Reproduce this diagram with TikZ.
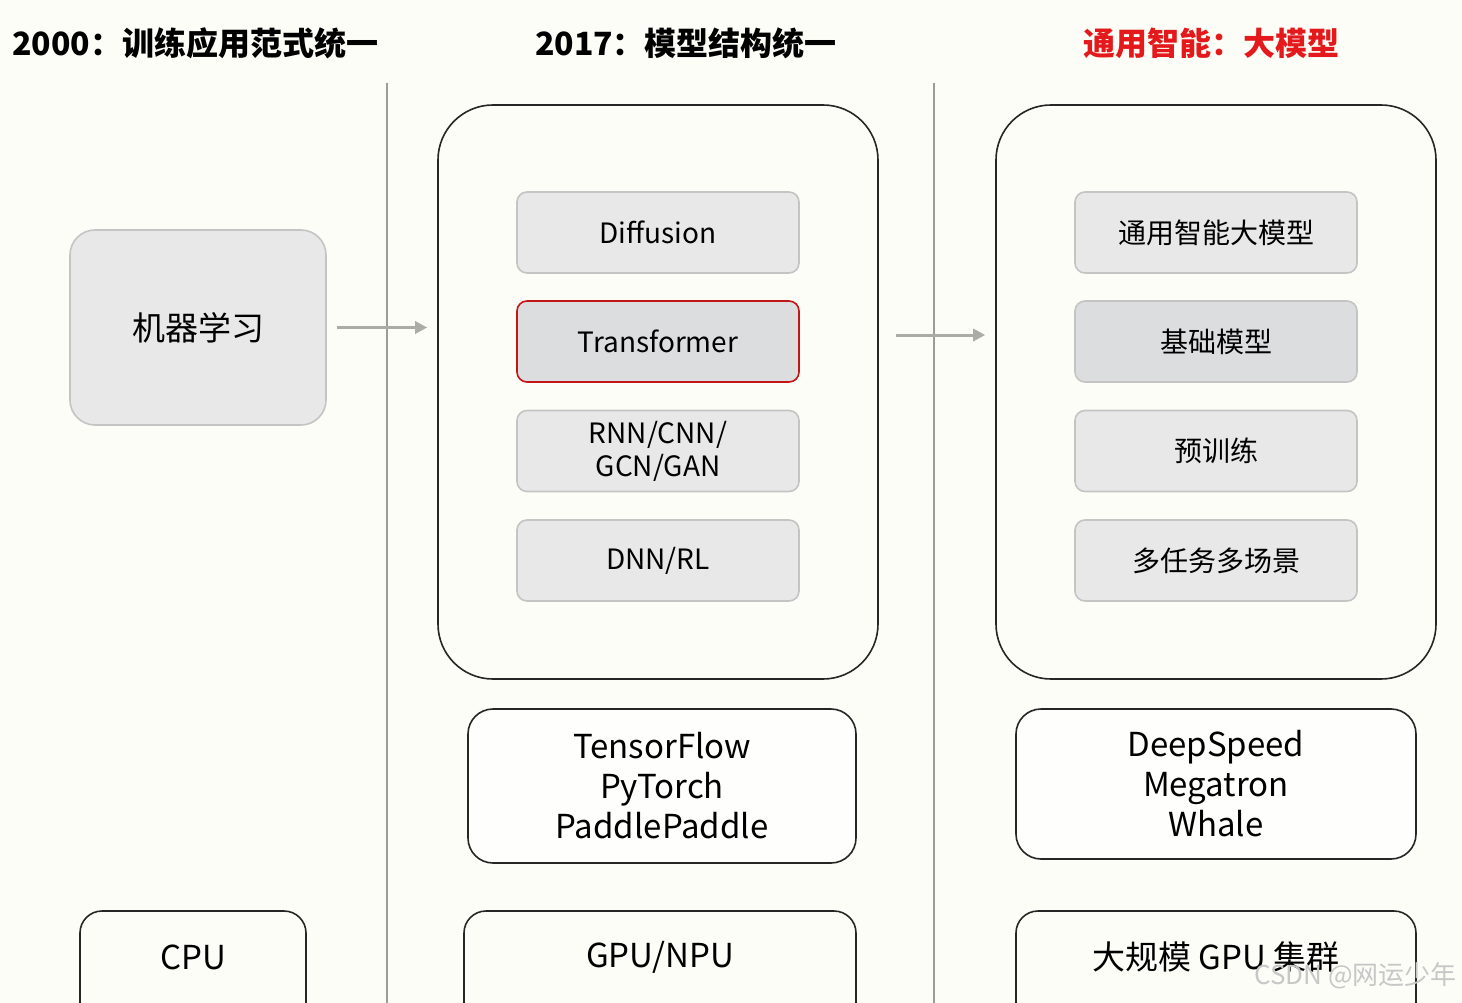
\documentclass[tikz,border=0pt]{standalone}
\usepackage{fontspec}
\setmainfont{Noto Sans CJK SC}
\usepackage{tikz}
\usetikzlibrary{arrows.meta,positioning,calc}
\definecolor{bgC}{HTML}{FDFDF7}
\definecolor{tileC}{HTML}{E8E8E8}
\definecolor{tileD}{HTML}{DCDDDF}
\definecolor{edgeC}{HTML}{C4C4C4}
\definecolor{lineC}{HTML}{9C9C98}
\definecolor{redC}{HTML}{E3191B}
\tikzset{
  headline/.style={font=\fontsize{32}{36}\selectfont\bfseries,inner sep=0pt},
  tile/.style={rounded corners=10pt,draw=edgeC,line width=1.6pt,fill=tileC,
              minimum width=282pt,minimum height=81pt,align=center,
              font=\fontsize{28}{33}\selectfont},
  hilite/.style={tile,draw=redC!85!black,fill=tileD},
  panel/.style={rounded corners=55pt,draw=black!85,line width=1.6pt,
              minimum width=440pt,minimum height=574pt},
  stackbox/.style={rounded corners=25pt,draw=black!85,line width=1.6pt,fill=white!60!bgC,
              align=center,font=\fontsize{33}{40}\selectfont},
  flowarrow/.style={-{Triangle[length=12pt,width=12pt]},line width=3pt,lineC!85},
  divider/.style={line width=2.4pt,lineC},
  hwtext/.style={font=\fontsize{33}{40}\selectfont,inner sep=0pt},
}
\begin{document}
\begin{tikzpicture}[x=1pt,y=-1pt]
  \fill[bgC] (0,0) rectangle (1462,1003);
  \useasboundingbox (0,0) rectangle (1462,1003);
  % headlines
  \node[headline,anchor=west] (h1) at (12,43) {2000：训练应用范式统一};
  \node[headline] (h2) at (686,43) {2017：模型结构统一};
  \node[headline,text=redC] (h3) at (1211,43) {通用智能：大模型};
  % dividers
  \draw[divider] (387,83) -- (387,1003);
  \draw[divider] (934,83) -- (934,1003);
  % left column
  \node[tile,rounded corners=25pt,minimum width=256pt,minimum height=195pt,
        font=\fontsize{33}{40}\selectfont] (ml) at (198,327.5) {机器学习};
  % middle column
  \node[panel] (pa) at (658,392) {};
  \node[tile] (diff) at (658,232.5) {Diffusion};
  \node[hilite] (trans) at (658,341.5) {Transformer};
  \node[tile] (rnn) at (658,451) {RNN/CNN/\\GCN/GAN};
  \node[tile] (dnn) at (658,560.5) {DNN/RL};
  \node[stackbox,minimum width=388pt,minimum height=154pt] (fw) at (662,786)
       {TensorFlow\\PyTorch\\PaddlePaddle};
  % right column
  \node[panel] (pb) at (1216,392) {};
  \node[tile] (agi) at (1216,232.5) {通用智能大模型};
  \node[hilite,draw=edgeC] (base) at (1216,341.5) {基础模型};
  \node[tile] (pre) at (1216,451) {预训练};
  \node[tile] (multi) at (1216,560.5) {多任务多场景};
  \node[stackbox,minimum width=400pt,minimum height=150pt] (dist) at (1216,784)
       {DeepSpeed\\Megatron\\Whale};
  % arrows
  \draw[flowarrow,shorten <=10pt,shorten >=10pt] (ml.east) -- (pa.west |- ml.east);
  \draw[flowarrow,shorten <=17pt,shorten >=10pt] ([yshift=57pt]pa.east) -- ([yshift=57pt]pb.west);
  % hardware row, cut off by the lower edge
  \foreach \xa/\xb in {80/306,464/856,1016/1416}
    \draw[line width=1.6pt,black!85,rounded corners=22pt]
      (\xa,1003) -- (\xa,911) -- (\xb,911) -- (\xb,1003);
  \node[hwtext] (cpu) at (193,957) {CPU};
  \node[hwtext] (gpu) at (660,957) {GPU/NPU};
  \node[hwtext] (clu) at (1216,957) {大规模 GPU 集群};
  \node[font=\fontsize{26}{30}\selectfont,text=black!22,inner sep=0pt,anchor=east] (wm)
       at (1457,976) {CSDN @网运少年};
\end{tikzpicture}
\end{document}
